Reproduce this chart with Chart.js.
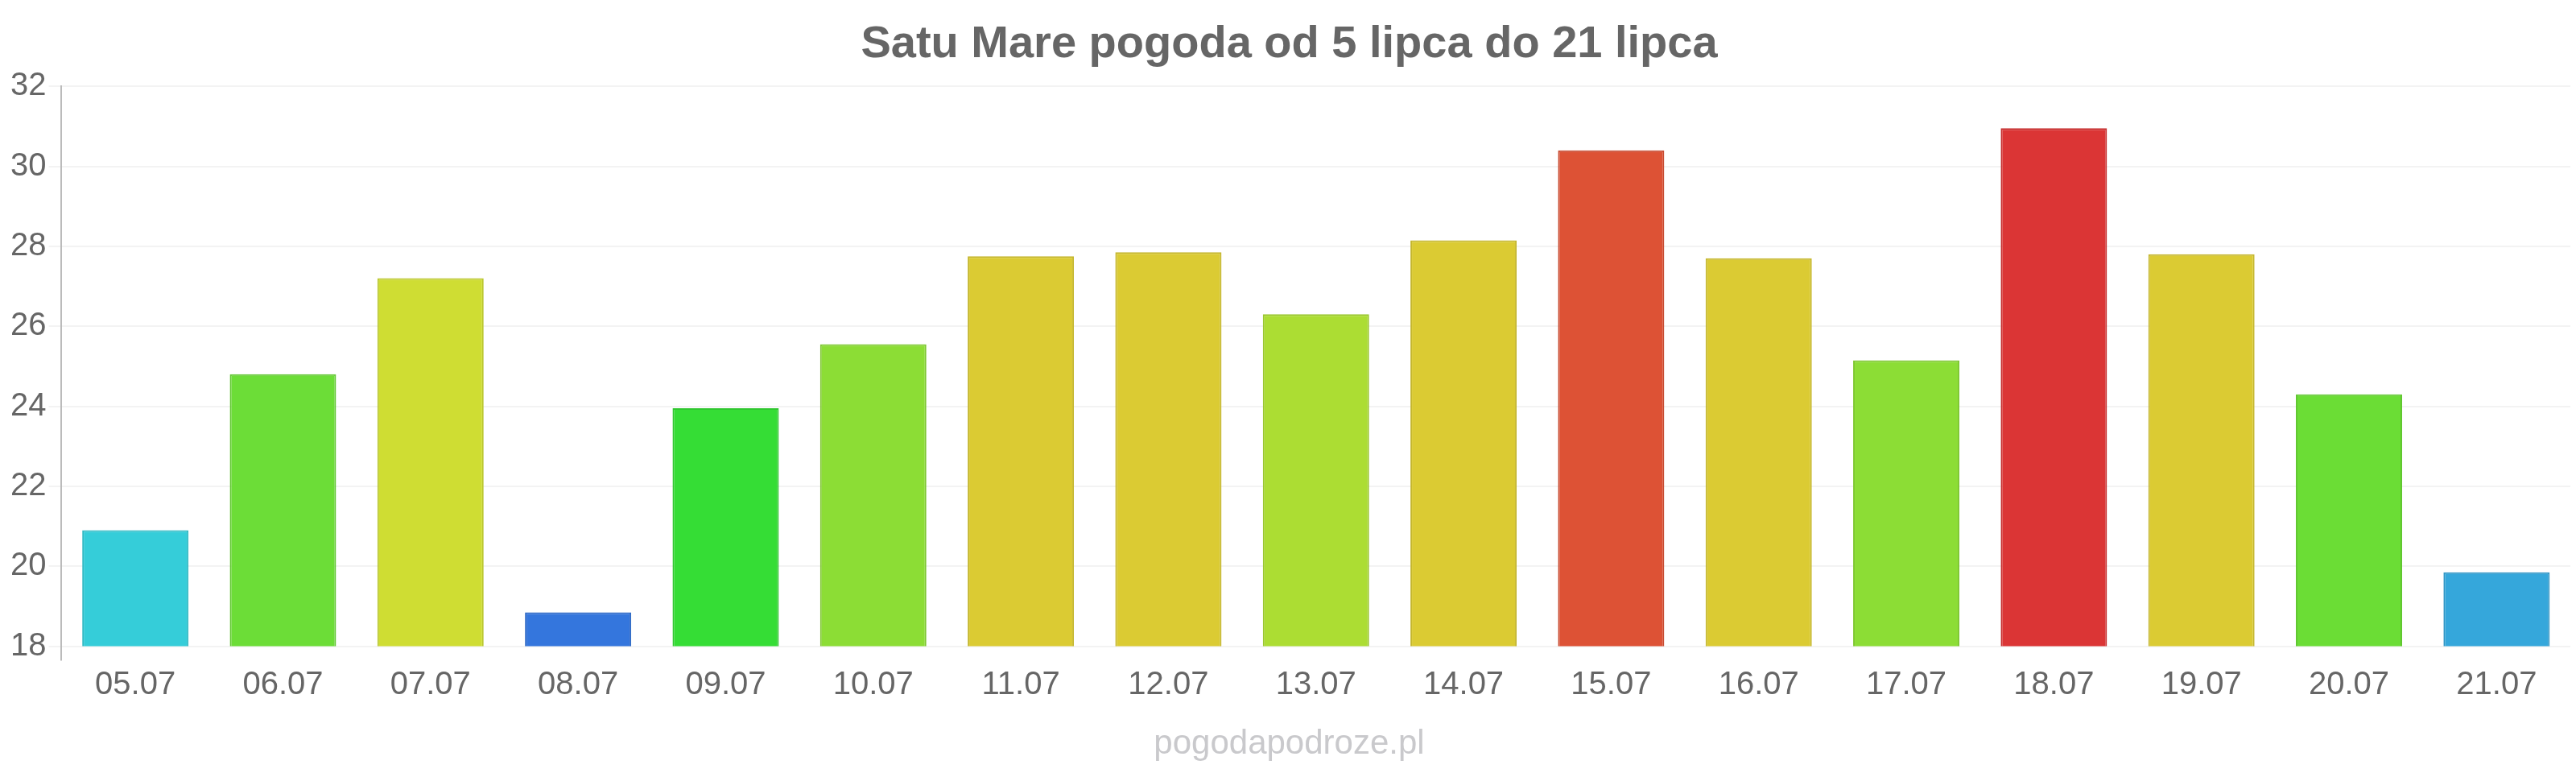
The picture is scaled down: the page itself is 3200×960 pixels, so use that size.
<!DOCTYPE html>
<html>
<head>
<meta charset="utf-8">
<title>Satu Mare pogoda</title>
<script src="https://cdn.jsdelivr.net/npm/chart.js@4/dist/chart.umd.min.js"></script>
<style>
  html, body { margin: 0; padding: 0; background: #fff; }
  #wrap { width: 3200px; height: 960px; }
</style>
</head>
<body>
<div id="wrap"><canvas id="weatherChart" width="3200" height="960"></canvas></div>
<script>
// data
const days = ['05.07', '06.07', '07.07', '08.07', '09.07', '10.07', '11.07', '12.07', '13.07',
              '14.07', '15.07', '16.07', '17.07', '18.07', '19.07', '20.07', '21.07'];
const temps = [20.9, 24.8, 27.2, 18.85, 23.95, 25.55, 27.75, 27.85, 26.3,
               28.15, 30.4, 27.7, 25.15, 30.95, 27.8, 24.3, 19.85];
const yTicks = [18, 20, 22, 24, 26, 28, 30, 32];

// temperature palette, one per day
const barColors = ['#35cdd9', '#6cdd37', '#cfdd33', '#3476dd', '#35dd35', '#8cdd35', '#dbcb33', '#dbcb33', '#acdd33',
                   '#dbcb33', '#dd5235', '#dbcb33', '#8cdd35', '#db3535', '#dbcb33', '#6bdd35', '#35a7db'];

// slightly darker edge for each bar
function darken(hex, f) {
  const n = parseInt(hex.slice(1), 16);
  const r = Math.round(((n >> 16) & 255) * f);
  const g = Math.round(((n >> 8) & 255) * f);
  const b = Math.round((n & 255) * f);
  return `rgb(${r},${g},${b})`;
}

const FONT = '"Liberation Sans", Arial, sans-serif';

new Chart(document.getElementById('weatherChart'), {
  type: 'bar',
  data: {
    labels: days,
    datasets: [{
      data: temps,
      backgroundColor: barColors,
      borderColor: barColors.map(c => darken(c, 0.9)),
      borderWidth: 2,
      categoryPercentage: 0.8,
      barPercentage: 0.9
    }]
  },
  options: {
    responsive: false,
    animation: false,
    devicePixelRatio: 1,
    layout: { padding: { left: 10, right: 7, top: 0, bottom: 0 } },
    plugins: {
      legend: { display: false },
      tooltip: { enabled: false },
      title: {
        display: true,
        text: 'Satu Mare pogoda od 5 lipca do 21 lipca',
        color: '#666',
        font: { family: FONT, size: 56, weight: 'bold' },
        padding: { top: 22, bottom: 18 }
      },
      subtitle: {
        display: true,
        position: 'bottom',
        text: 'pogodapodroze.pl',
        color: '#c9c9cc',
        font: { family: FONT, size: 42 },
        padding: { top: 19, bottom: 10 }
      }
    },
    scales: {
      x: {
        offset: true,
        border: { display: false },
        grid: {
          drawOnChartArea: false,
          tickLength: 18,
          lineWidth: 2,
          // only the left edge tick shows, as an extension of the y axis
          color: ctx => ctx.index === 0 ? '#bbbbbb' : 'rgba(0,0,0,0)'
        },
        ticks: { color: '#666', padding: 6, font: { family: FONT, size: 40 } }
      },
      y: {
        min: yTicks[0],
        max: yTicks[yTicks.length - 1],
        border: { display: true, color: '#bbbbbb', width: 2 },
        grid: { color: '#f3f3f3', lineWidth: 2, tickLength: 16 },
        ticks: {
          stepSize: yTicks[1] - yTicks[0],
          color: '#666',
          padding: 3,
          font: { family: FONT, size: 40 }
        }
      }
    }
  }
});
</script>
</body>
</html>
